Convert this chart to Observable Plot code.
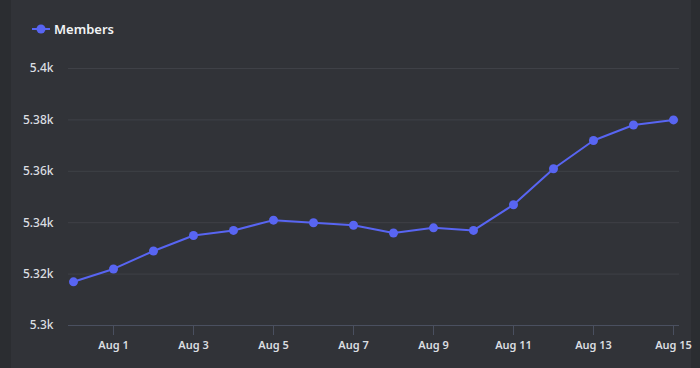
<!DOCTYPE html>
<html>
<head>
<meta charset="utf-8">
<script src="https://cdn.jsdelivr.net/npm/d3@7"></script>
<script src="https://cdn.jsdelivr.net/npm/@observablehq/plot@0.6"></script>
<style>
  html, body { margin: 0; padding: 0; background: #2b2d31; }
  #wrap { position: relative; width: 700px; height: 368px; overflow: hidden; background: #2b2d31; }
  #panel { position: absolute; left: 11px; top: 0; width: 680px; height: 368px; background: #313338; }
  #legend { position: absolute; left: 32px; top: 19px; display: flex; align-items: center;
    font-family: "Noto Sans", sans-serif; font-weight: 600; font-size: 13px; color: #f2f3f5; }
  #legend svg { margin-right: 4px; }
  #chart { position: absolute; left: 0; top: 0; }
</style>
</head>
<body>
<div id="wrap">
  <div id="panel"></div>
  <div id="chart"></div>
  <div id="legend"><svg width="18" height="20"><line x1="0" y1="10" x2="18" y2="10" stroke="#5865f2" stroke-width="2"/><circle cx="9" cy="10" r="4.5" fill="#5865f2"/></svg><span>Members</span></div>
</div>
<script>
const dates = ["2023-07-31","2023-08-01","2023-08-02","2023-08-03","2023-08-04","2023-08-05","2023-08-06","2023-08-07",
  "2023-08-08","2023-08-09","2023-08-10","2023-08-11","2023-08-12","2023-08-13","2023-08-14","2023-08-15"];
const members = [5317, 5322, 5329, 5335, 5337, 5341, 5340, 5339, 5336, 5338, 5337, 5347, 5361, 5372, 5378, 5380];
const yTicks = [5300, 5320, 5340, 5360, 5380, 5400];
const xTickDates = ["2023-08-01","2023-08-03","2023-08-05","2023-08-07","2023-08-09","2023-08-11","2023-08-13","2023-08-15"];

const data = dates.map((d, i) => ({date: new Date(d + "T00:00:00Z"), value: members[i]}));
const xTicks = xTickDates.map(d => new Date(d + "T00:00:00Z"));
const hour = 3600 * 1000;
const x0 = new Date(data[0].date.getTime() - 3 * hour);
const x1 = new Date(data[data.length - 1].date.getTime() + 3.6 * hour);
const fmtX = d3.utcFormat("%b %-d");

const chart = Plot.plot({
  width: 700,
  height: 368,
  marginLeft: 68,
  marginRight: 21,
  marginTop: 68,
  marginBottom: 43,
  style: { background: "transparent", color: "#dbdee1", fontFamily: "Noto Sans, sans-serif" },
  x: { type: "utc", domain: [x0, x1], label: null },
  y: { domain: [5300, 5400], label: null },
  marks: [
    Plot.gridY(yTicks, { stroke: "#3f4147", strokeOpacity: 1, strokeWidth: 1 }),
    Plot.ruleY([5300], { stroke: "#4a5060", strokeWidth: 1 }),
    Plot.axisY(yTicks, { tickSize: 0, tickPadding: 15, tickFormat: d => (d / 1000) + "k",
      fontSize: 12, fontWeight: 500, fill: "#dbdee1", label: null }),
    Plot.axisX(xTicks, { tickSize: 10, stroke: "#4a5060", tickPadding: 6, tickFormat: fmtX,
      fontSize: 11, fontWeight: 600, fill: "#dbdee1", label: null }),
    Plot.line(data, { x: "date", y: "value", stroke: "#5865f2", strokeWidth: 2 }),
    Plot.dot(data, { x: "date", y: "value", r: 4.5, fill: "#5865f2", stroke: "none" })
  ]
});
document.getElementById("chart").appendChild(chart);
</script>
</body>
</html>
